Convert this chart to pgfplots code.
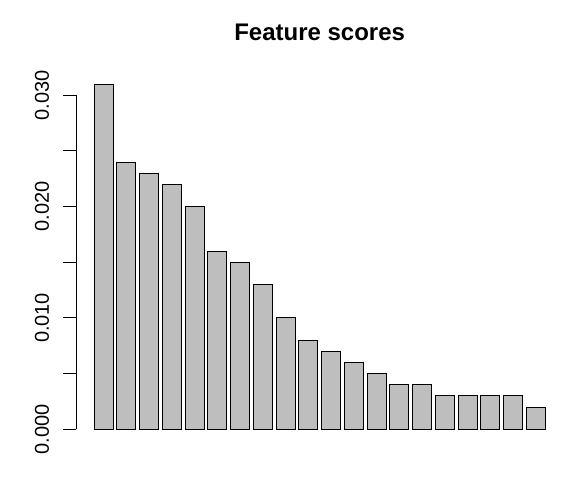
\documentclass[border=0pt]{standalone}
\usepackage{pgfplots}
\pgfplotsset{compat=1.18}
\usepackage{fontspec}
\setmainfont{Liberation Sans}
\definecolor{bargrey}{HTML}{BEBEBE}
\begin{document}
\begin{tikzpicture}[x=1bp,y=1bp]
\useasboundingbox (0,0) rectangle (581,486);
\begin{axis}[
  at={(76bp,42.9bp)}, anchor=south west,
  scale only axis, width=487.3bp, height=372.7bp,
  xmin=-0.752, xmax=24.952, ymin=-0.00124, ymax=0.03224,
  axis x line=none, axis y line*=left,
  axis line style={draw=none},
  clip=false,
  ytick={0,0.005,0.01,0.015,0.02,0.025,0.03},
  yticklabels={{0.000},{},{0.010},{},{0.020},{},{0.030}},
  tick align=outside, major tick length=13bp,
  ytick style={draw=black, line width=1bp},
  yticklabel style={font=\fontsize{20bp}{24bp}\selectfont, rotate=90, anchor=base},
  yticklabel shift=14bp,
  scaled y ticks=false,
]
\addplot[ybar, bar width=1, bar shift=0pt, fill=bargrey, draw=black, line width=1bp] coordinates {
(0.7,0.031) (1.9,0.024) (3.1,0.023) (4.3,0.022) (5.5,0.020)
(6.7,0.016) (7.9,0.015) (9.1,0.013) (10.3,0.010) (11.5,0.008)
(12.7,0.007) (13.9,0.006) (15.1,0.005) (16.3,0.004) (17.5,0.004)
(18.7,0.003) (19.9,0.003) (21.1,0.003) (22.3,0.003) (23.5,0.002)
};
\coordinate (ya) at (axis cs:-0.752,0);
\coordinate (yb) at (axis cs:-0.752,0.03);
\end{axis}
\draw[black, line width=1bp] (ya) -- (yb);
\node[font=\bfseries\fontsize{24bp}{28bp}\selectfont, anchor=base] at (319.65,445) {Feature scores};
\end{tikzpicture}
\end{document}
